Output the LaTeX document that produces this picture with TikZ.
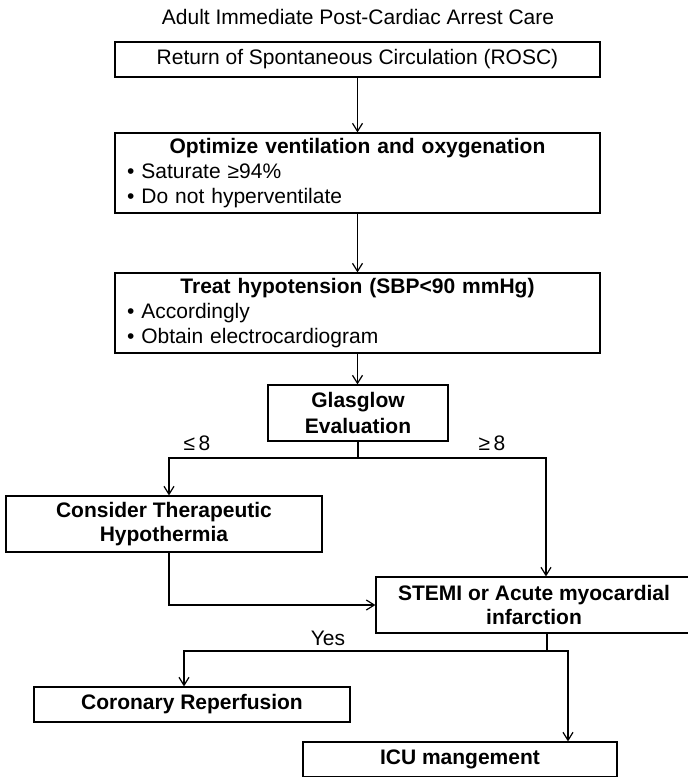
\documentclass[tikz,border=0pt]{standalone}
\usepackage{fontspec}
\setmainfont{Liberation Sans}
\usetikzlibrary{arrows.meta,calc}
\tikzset{
         box/.style=
          {
           draw,line width=1.2pt,inner sep=0pt,align=center,
           font=\fontsize{21}{24}\selectfont\bfseries
          },
         listbox/.style=
          {
           draw,line width=1.2pt,inner xsep=12pt,inner ysep=0pt,
           text width=461pt,minimum height=80pt,align=left,
           font=\fontsize{21}{25}\selectfont
          },
         conn/.style={line width=1.2pt,-{Straight Barb[length=8pt,width=10pt]}},
         lbl/.style={font=\fontsize{21}{24}\selectfont}
        }

\begin{document}
\begin{tikzpicture}[x=1pt,y=-1pt]
\useasboundingbox(0,0)rectangle(688,777);
\node[lbl](title)at(358,17){Adult Immediate Post-Cardiac Arrest Care};
%boxes
\node[box,font=\fontsize{21}{24}\selectfont,minimum width=485pt,minimum height=35pt](rosc)at(357.5,59.5){Return of Spontaneous Circulation (ROSC)};
\node[listbox](vent)at(357.5,173){{\centering\bfseries Optimize ventilation and oxygenation\par}• Saturate ≥94\%\par • Do not hyperventilate};
\node[listbox](treat)at(357.5,313){{\centering\bfseries Treat hypotension (SBP<90 mmHg)\par}• Accordingly\par • Obtain electrocardiogram};
\node[box,font=\fontsize{21}{26}\selectfont\bfseries,minimum width=180pt,minimum height=56pt](glas)at(358,413){Glasglow\\Evaluation};
\node[box,minimum width=316pt,minimum height=56pt](cons)at(164,524){Consider Therapeutic\\Hypothermia};
\node[box,minimum width=316pt,minimum height=56pt](stemi)at(534,605){STEMI or Acute myocardial\\infarction};
\node[box,minimum width=316pt,minimum height=35pt](cor)at(192,704.5){Coronary Reperfusion};
\node[box,minimum width=314pt,minimum height=35pt](icu)at(460,759.5){ICU mangement};
%branch points
\coordinate(gl)at(169,458);
\coordinate(gr)at(546,458);
\coordinate(sm)at(547,651);
\coordinate(sl)at(184,651);
\coordinate(sr)at(568,651);
%arrows
\draw[conn](rosc)--(vent);
\draw[conn](vent)--(treat);
\draw[conn](treat.south)--(treat.south|-glas.north);
\draw[conn](glas.south)|-(gl)--(gl|-cons.north);
\draw[conn](glas.south)|-(gr)--(gr|-stemi.north);
\draw[conn](gl|-cons.south)|-(stemi.west);
\draw[conn](sm|-stemi.south)--(sm)--(sl)--(sl|-cor.north);
\draw[conn](sm)--(sr)--(sr|-icu.north);
%labels
\node[lbl](le)at(197,443){≤\,8};
\node[lbl](ge)at(492,443){≥\,8};
\node[lbl](yes)at(328,638){Yes};
\end{tikzpicture}
\end{document}
